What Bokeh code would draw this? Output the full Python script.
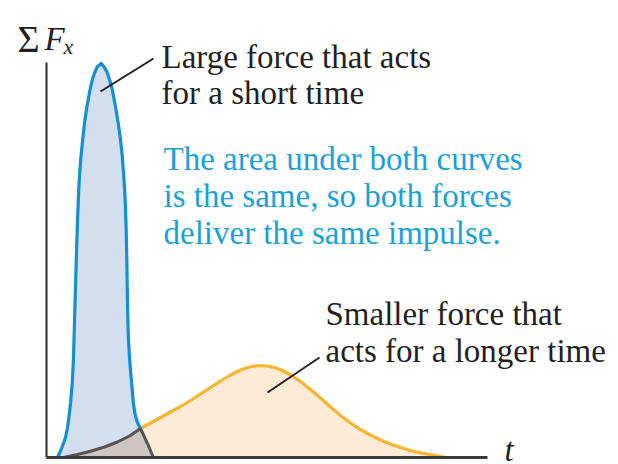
from bokeh.plotting import figure
from bokeh.models import Range1d, Label
from bokeh.embed import file_html
from bokeh.resources import INLINE

# Force-time curves (t, net force), arbitrary units.
# Large force acting for a short time
blue_t = [11, 13.3, 15.4, 17.3, 19, 21, 22.4, 24.1, 25.7, 26.8, 27.5, 28.1, 29, 30, 31,
          32.3, 33.3, 34.6, 36.2, 38.1, 40.6, 43.8, 46.2, 48.6, 51, 54, 54.6,
          55.2, 58, 60.7, 63, 65.5, 68.8, 71.6, 73.9, 75.7, 77, 78.1, 79, 79.7, 80.2,
          80.6, 80.9, 81.3, 81.9, 83, 84.2, 85.5, 86.7, 88.2, 90.5, 94,
          97, 100, 102.5, 104.8, 107]
blue_f = [0, 5, 10, 15, 20, 30, 40, 55, 74, 95, 117, 140, 170, 205, 237,
          269, 287, 302, 318, 335, 352, 369, 379, 386, 391, 393.5, 394,
          393.5, 390, 385, 378, 369, 352, 335, 319, 302, 285, 269, 250, 227, 205,
          180, 160, 140, 120, 100, 85, 70, 56, 45, 36, 29,
          22.5, 16, 10.5, 5, 0]

# Smaller force acting for a longer time
orange_t = [17, 30, 44, 58, 71, 83, 94, 104, 114, 124, 134, 144, 154, 164, 174, 184,
            194, 202, 211, 220, 228, 236, 244, 254, 264, 274, 284, 294, 304, 314, 324,
            334, 344, 354, 364, 374, 386, 393, 400]
orange_f = [0, 2.8, 6.3, 10.5, 15.5, 21.5, 29, 34.5, 40, 45.5, 51, 57, 63.5, 70, 76.5, 82.5,
            87.5, 90.3, 92, 91.5, 90, 87, 82.5, 76, 68, 59.5, 50.5, 42, 34.5, 28, 22.5,
            17.5, 13.5, 10, 7, 4.7, 2.5, 1.1, 0]

# Point where the two curves cross
cross_t, cross_f = 94, 29

# Axis extents
t_axis_end = 441
f_axis_end = 395

# Leader lines for the callouts
short_leader_t = [54, 107]
short_leader_f = [366, 399]
long_leader_t = [221, 273]
long_leader_f = [65, 100]

BLUE_LINE = "#138fd2"
BLUE_FILL = "#d3deef"
ORANGE_LINE = "#f9b52f"
ORANGE_FILL = "#fdebd6"
OVERLAP_FILL = "#cdc5c1"
HIDDEN_LINE = "#585453"
TEXT = "#231f20"
NOTE = "#1ba1d8"
SERIF = "Liberation Serif"

p = figure(width=618, height=464, output_backend="svg", toolbar_location=None,
           x_range=Range1d(-46, 572), y_range=Range1d(-7, 457), min_border=0)
p.axis.visible = False
p.grid.visible = False
p.outline_line_color = None
p.background_fill_color = "white"
p.border_fill_color = "white"

bi = blue_t.index(cross_t)
oi = orange_t.index(cross_t)

# Filled areas under each curve, then the shared area on top
p.patch(blue_t, blue_f, fill_color=BLUE_FILL, line_color=None)
p.patch(orange_t, orange_f, fill_color=ORANGE_FILL, line_color=None)
p.patch(orange_t[:oi + 1] + blue_t[bi + 1:], orange_f[:oi + 1] + blue_f[bi + 1:],
        fill_color=OVERLAP_FILL, line_color=None)

# Curve outlines: visible parts in colour, hidden parts in grey
p.line(orange_t[oi:], orange_f[oi:], line_color=ORANGE_LINE, line_width=3.2,
       line_join="round")
p.line(blue_t[:bi + 1], blue_f[:bi + 1], line_color=BLUE_LINE, line_width=3.2,
       line_join="round")
p.line(orange_t[:oi + 1], orange_f[:oi + 1], line_color=HIDDEN_LINE, line_width=3,
       line_join="round")
p.line(blue_t[bi:], blue_f[bi:], line_color=HIDDEN_LINE, line_width=3,
       line_join="round")

# Axes
p.line([0, 0], [0, f_axis_end], line_color="#2b2b2b", line_width=2)
p.line([0, t_axis_end], [0, 0], line_color="#3a3a3a", line_width=3)

# Callout leaders
p.line(short_leader_t, short_leader_f, line_color=TEXT, line_width=2)
p.line(long_leader_t, long_leader_f, line_color=TEXT, line_width=2)


def add_text(x, y, txt, color=TEXT, size="33px", style="normal"):
    p.add_layout(Label(x=x, y=y, text=txt, text_font=SERIF, text_font_size=size,
                       text_color=color, text_font_style=style,
                       text_baseline="alphabetic", text_align="left"))


# Axis titles
add_text(-29, 419, "\u03a3", size="38px")
add_text(-2, 419, "F", style="italic")
add_text(17, 411, "x", size="22px", style="italic")
add_text(458, 8, "t", style="italic")

# Callouts
add_text(115, 401, "Large force that acts")
add_text(115, 365, "for a short time")
add_text(117, 299, "The area under both curves", color=NOTE)
add_text(117, 262, "is the same, so both forces", color=NOTE)
add_text(117, 225, "deliver the same impulse.", color=NOTE)
add_text(279, 144, "Smaller force that")
add_text(279, 107, "acts for a longer time")

open("out.html", "w").write(file_html(p, INLINE))
